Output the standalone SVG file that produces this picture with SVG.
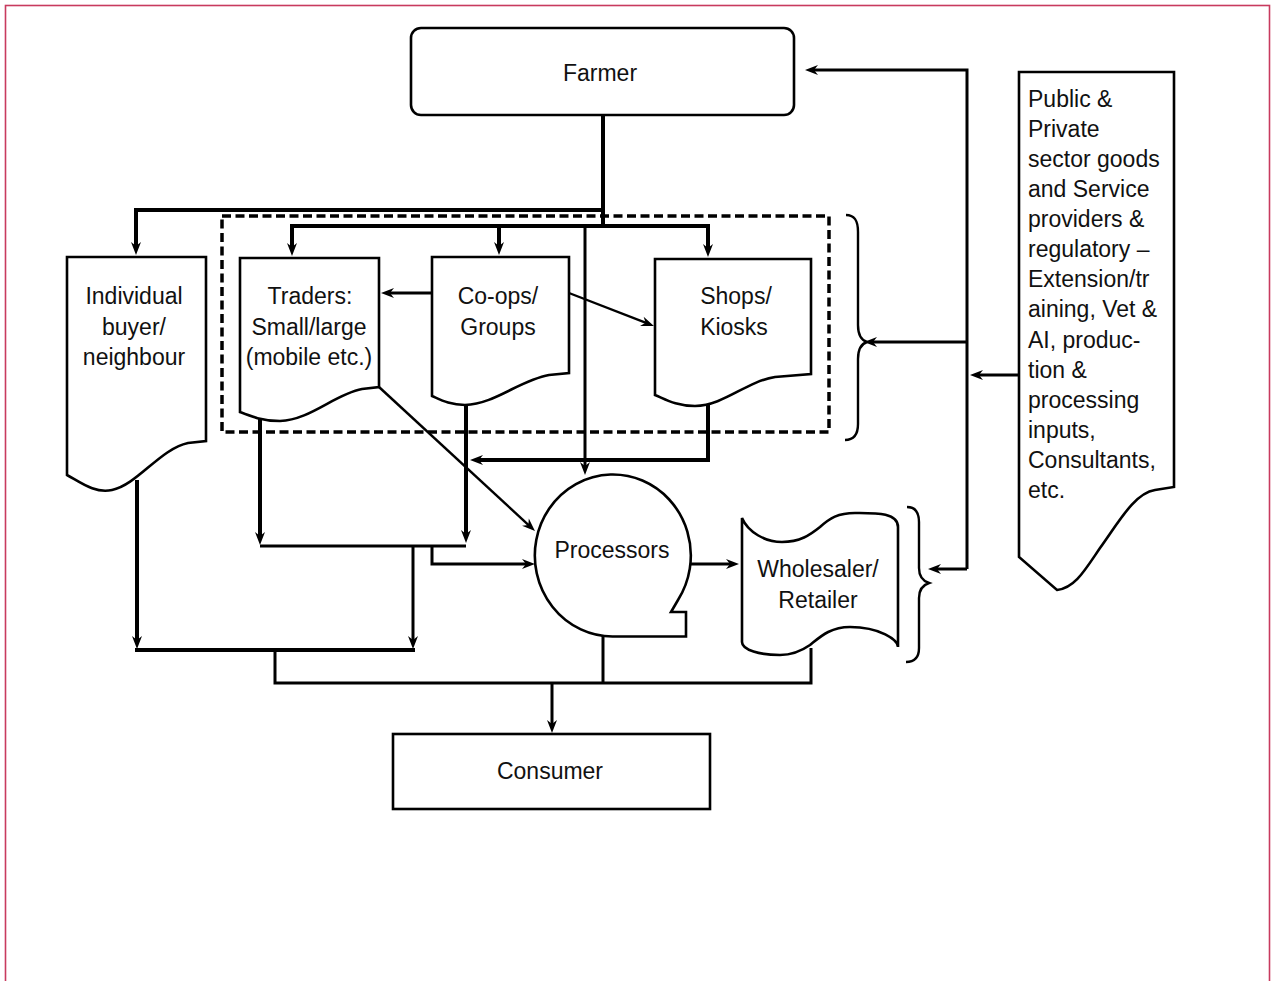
<svg xmlns="http://www.w3.org/2000/svg" width="1274" height="981" viewBox="0 0 1274 981">
  <defs>
    <marker id="arrow" markerUnits="userSpaceOnUse" markerWidth="14" markerHeight="11" refX="8" refY="5.5" orient="auto" overflow="visible">
      <path d="M0,0.5 L13,5.5 L0,10.5 L4,5.5 Z" fill="#000"/>
    </marker>
    <style>
      .node { fill: #fff; stroke: #000; stroke-width: 2.6; stroke-linejoin: miter; }
      .label { font-family: "Liberation Sans", Arial, sans-serif; font-size: 23px; fill: #111; text-anchor: middle; }
      .side { font-family: "Liberation Sans", Arial, sans-serif; font-size: 23px; fill: #111; }
      .wire { fill: none; stroke: #000; stroke-width: 3; stroke-linejoin: miter; }
      .heavy { stroke-width: 4; }
      .thin { stroke-width: 2.4; }
      .arr { marker-end: url(#arrow); }
      .brace { fill: none; stroke: #000; stroke-width: 2.4; }
    </style>
  </defs>

  <rect width="1274" height="981" fill="#fff"/>
  <!-- page frame -->
  <rect x="5.5" y="5.5" width="1264" height="1010" fill="none" stroke="#c83a5e" stroke-width="1.6"/>

  <!-- grouping of the intermediary channels -->
  <rect id="channel-group" x="222" y="216" width="607" height="216" fill="none" stroke="#000" stroke-width="3.5" stroke-dasharray="9 4.5"/>

  <!-- connectors -->
  <g id="connectors">
    <path class="wire heavy" d="M603,115 V226"/>
    <path class="wire heavy arr" d="M603,210 H136 V250"/>
    <path class="wire heavy arr" d="M603,226 H292 V251"/>
    <path class="wire heavy arr" d="M603,226 H708 V252"/>
    <path class="wire heavy arr" d="M499,226 V250"/>
    <path class="wire arr" d="M585,226 V470"/>
    <path class="wire arr" d="M432,293 H386"/>
    <path class="wire thin arr" d="M569,293 L649.3,324.2"/>
    <path class="wire thin arr" d="M379,387 L531.3,527.6"/>
    <path class="wire heavy arr" d="M708,405 V460 H475"/>
    <path class="wire heavy arr" d="M260,417 V540"/>
    <path class="wire heavy arr" d="M466,404 V538"/>
    <path class="wire" d="M260,546 H466"/>
    <path class="wire arr" d="M432,546 V564 H530"/>
    <path class="wire heavy arr" d="M137,480 V644"/>
    <path class="wire arr" d="M413,546 V644"/>
    <path class="wire heavy" d="M135,650 H415"/>
    <path class="wire" d="M275,650 V683 H811 V648"/>
    <path class="wire" d="M603,636 V683"/>
    <path class="wire arr" d="M552,683 V728"/>
    <path class="wire arr" d="M690,564 H734"/>
    <path class="wire arr" d="M1019,375 H975"/>
    <path class="wire arr" d="M967,569 V70 H810"/>
    <path class="wire arr" d="M967,342 H869"/>
    <path class="wire arr" d="M967,569 H933"/>
  </g>

  <!-- braces -->
  <path class="brace" d="M846,215 C855,215 858,221 858,232 V325 C858,335 861,340 867,342 C861,344 858,349 858,359 V424 C858,434 854,440 845,440"/>
  <path class="brace" d="M907,507 C915,507 919,512 919,522 V568 C919,577 923,581 929,583 C923,585 919,589 919,598 V648 C919,658 914,662 906,662"/>

  <g id="farmer">
    <rect class="node" x="411" y="28" width="383" height="87" rx="10" stroke-width="3"/>
    <text class="label" x="600" y="81">Farmer</text>
  </g>

  <g id="individual-buyer">
    <path class="node" d="M67,257 H206 V441 L188,443 C160,449 137,485 112,490 C95,494 80,482 67,475 Z"/>
    <text class="label" x="134" y="304">Individual</text>
    <text class="label" x="134" y="335">buyer/</text>
    <text class="label" x="134" y="365">neighbour</text>
  </g>

  <g id="traders">
    <path class="node" d="M240,258 H379 V387 L362,389 C335,394 310,420 280,421 C262,421 250,416 240,412 Z"/>
    <text class="label" x="310" y="304">Traders:</text>
    <text class="label" x="309" y="335">Small/large</text>
    <text class="label" x="309" y="365">(mobile etc.)</text>
  </g>

  <g id="coops">
    <path class="node" d="M432,257 H569 V373 L549,375 C520,380 495,404 465,405 C450,405 441,400 432,396 Z"/>
    <text class="label" x="498" y="304">Co-ops/</text>
    <text class="label" x="498" y="335">Groups</text>
  </g>

  <g id="shops">
    <path class="node" d="M655,259 H811 V374 L775,377 C745,382 725,405 695,406 C676,406 665,399 655,395 Z"/>
    <text class="label" x="736" y="304">Shops/</text>
    <text class="label" x="734" y="335">Kiosks</text>
  </g>

  <g id="processors">
    <path class="node" d="M612.5,636.5 A78,81 0 1 1 678,600 L671,612 L686,612 L686,636.5 Z"/>
    <text class="label" x="612" y="558">Processors</text>
  </g>

  <g id="wholesaler">
    <path class="node" d="M742,518 C748,532 765,542 782,542 C800,542 810,535 820,527 C830,518 838,513 855,513 C875,513 898,512 898,527 V647 C898,640 880,627 850,627 C830,627 820,637 810,645 C800,652 790,655 780,655 C760,655 742,650 742,642 Z"/>
    <text class="label" x="818" y="577">Wholesaler/</text>
    <text class="label" x="818" y="608">Retailer</text>
  </g>

  <g id="consumer">
    <rect class="node" x="393" y="734" width="317" height="75" stroke-width="3.5"/>
    <text class="label" x="550" y="779">Consumer</text>
  </g>

  <g id="service-providers">
    <path class="node" d="M1019,72 H1174 V487 L1155,490 C1135,493 1120,520 1100,548 C1085,570 1075,588 1057,590 L1019,557 Z"/>
    <text class="side" x="1028" y="107">Public &amp;</text>
    <text class="side" x="1028" y="137">Private</text>
    <text class="side" x="1028" y="167">sector goods</text>
    <text class="side" x="1028" y="197">and Service</text>
    <text class="side" x="1028" y="227">providers &amp;</text>
    <text class="side" x="1028" y="257">regulatory –</text>
    <text class="side" x="1028" y="287">Extension/tr</text>
    <text class="side" x="1028" y="317">aining, Vet &amp;</text>
    <text class="side" x="1028" y="348">AI, produc-</text>
    <text class="side" x="1028" y="378">tion &amp;</text>
    <text class="side" x="1028" y="408">processing</text>
    <text class="side" x="1028" y="438">inputs,</text>
    <text class="side" x="1028" y="468">Consultants,</text>
    <text class="side" x="1028" y="498">etc.</text>
  </g>
</svg>
